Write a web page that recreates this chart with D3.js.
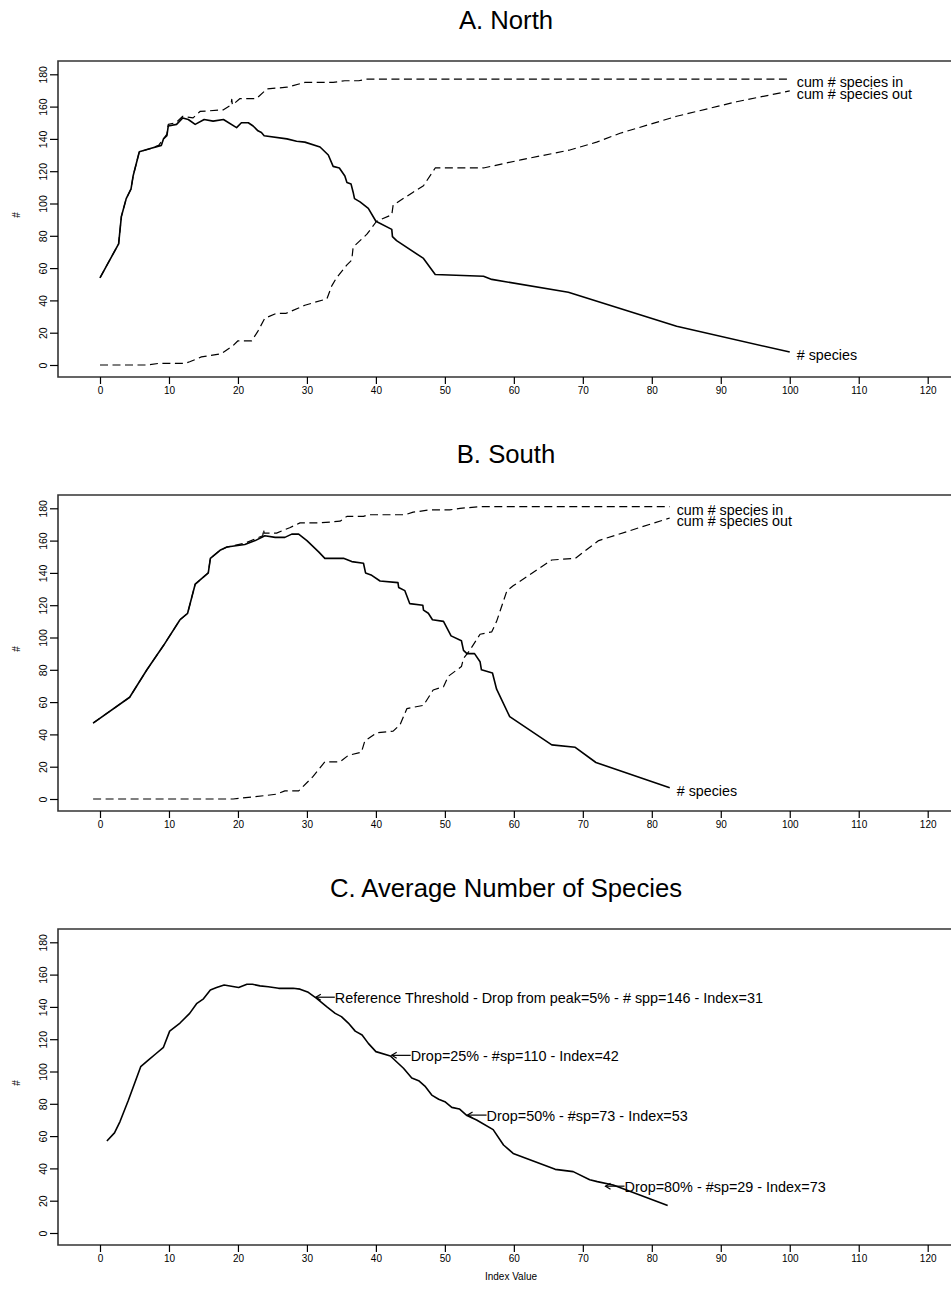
<!DOCTYPE html>
<html>
<head>
<meta charset="utf-8">
<script src="https://cdn.jsdelivr.net/npm/d3@7"></script>
<style>
  body { margin: 0; background: #fff; }
  svg { display: block; font-family: "Liberation Sans", Arial, Helvetica, sans-serif; }
</style>
</head>
<body>
<div id="chart"></div>
<script>
// index value / species count pairs
const northSpecies = [[0,54],[2.7,75],[3.1,92],[3.8,103],[4.5,109],[4.8,117],[5.7,132],[7.3,134],[8.9,136],[9.2,140],[9.7,142],[9.9,148],[11.1,149],[12,153],[12.8,152],[13.8,149],[15.1,152],[16.4,151],[17.9,152],[19.8,147],[20.5,150],[21.5,150],[22.2,148],[22.9,145],[23.4,144],[23.8,142],[27.1,140],[28.5,138.5],[29.7,138],[31.9,135],[33.1,130],[33.8,123],[34.7,122],[35.5,117],[35.8,113],[36.4,112],[36.7,107],[36.9,103],[37.7,101],[38.9,97],[40,89],[42.3,84],[42.4,79.5],[43,77],[46.9,66],[48.6,56],[55.6,55],[56.8,53],[67.9,45],[83.6,24],[100,8]];
const northCumIn = [[0,54],[2.7,75],[3.1,92],[3.8,103],[4.5,109],[4.8,117],[5.7,132],[7.3,134],[8.5,136],[9.2,140],[9.7,143],[9.9,149],[11,150],[12,154],[13.5,153],[14.5,157],[17.9,158],[19,161],[19.1,164.5],[19.2,161],[20.3,165],[22.7,165],[23.7,169],[24.2,171],[27.1,172],[29.7,175],[33.8,175],[35.5,176],[37.5,176],[38.7,177],[100,177]];
const northCumOut = [[0,0],[6.8,0],[8.5,1],[12.3,1],[13,2],[14.7,5],[17.6,7],[19.3,12],[20,15],[22,15],[22.9,21],[23.9,29],[25.6,32],[27,32],[29.7,37],[32.9,41],[33.6,49],[34.3,54],[35.8,62],[36.5,65],[36.7,73],[38.7,81],[40.1,89],[42.3,93],[42.5,99],[45.4,107],[46.9,111],[48.6,122],[55.6,122],[61,127],[68,133],[72,138],[75.4,143.5],[83.6,154],[92.3,163],[100,169.7]];

const southSpecies = [[-1,47],[4.3,63],[6.8,80],[9.2,95],[11.6,111],[12.7,115],[13.8,133],[15.7,140],[16,149],[17.4,154],[18.4,156],[21,157.6],[22.5,160],[23.9,163],[25.4,162],[26.8,162],[27.8,164],[28.8,164],[30,160],[31.7,153],[32.6,149],[35.3,149],[36.5,147],[38.2,146],[38.5,140],[39.4,138.5],[40.6,135],[43.2,134],[43.3,131],[44.2,129],[44.9,121],[46.8,120],[46.9,117],[47.6,115],[48.2,111],[49.8,110],[50.9,101],[52.4,98],[52.7,92],[53.2,90],[54.3,90],[55.1,85],[55.3,80],[56.9,78],[57.5,68],[59.4,51],[65.5,33.5],[68.9,32],[71.9,22.6],[82.6,7]];
const southCumIn = [[-1,47],[4.3,63],[6.8,80],[9.2,95],[11.6,111],[12.7,115],[13.8,133],[15.7,140],[16,149],[17.4,154],[18.4,156],[21,158.4],[23.6,163],[23.7,167],[23.8,164.6],[25.6,164.6],[27.5,168],[29,171],[31.9,171],[34.8,172],[35.8,175],[38.2,175],[38.9,176],[44.2,176],[45.4,177.6],[47.8,179],[50.7,179],[52.2,180],[55.1,181],[82.6,181]];
const southCumOut = [[-1,0],[19.3,0],[23.7,2],[25.6,3],[26.8,5],[28.8,5],[30.9,14],[32.6,23],[34.8,23],[36,27],[37.9,29],[38.4,36],[40.1,41],[42.5,42],[43.5,46],[44.5,56],[46.9,58],[48.3,67.5],[49.8,69.5],[50.5,76],[52.4,82],[52.7,87],[53.6,92],[55.1,102],[56.8,103.5],[57.5,110],[59,129],[59.9,132],[65.5,148],[68.9,149],[72.3,160],[82.6,174]];

const averageSpecies = [[1,57],[2.1,62],[2.9,69],[4.1,82],[5.9,103],[7,107],[8.1,111],[9.2,115],[10.1,125],[11.6,130],[13,136],[14,142],[15,145],[16,150.5],[16.9,152],[18,153.6],[20.1,152],[21.3,154],[22.1,154],[23.2,153],[24.4,152.5],[25.9,151.5],[28,151.5],[29,151],[30.2,149],[31.4,145.3],[32.9,140],[34.1,136],[35,134],[36,130],[37,125],[38,122.6],[38.9,117.4],[40,112.3],[42.1,109.6],[44,102],[45.2,96],[46.2,94.3],[47.1,91],[48.1,85.4],[49.1,82.8],[50,81.3],[51,77.8],[52.1,76.8],[53.2,72.7],[54.6,70],[57,64],[58.5,54.5],[59.9,49.3],[66,39.4],[68.6,38],[71,33],[72.1,31.8],[74.4,29.7],[82.3,17]];

const thresholdIndex = [31, 42, 53, 73];
const thresholdSpecies = [146, 110, 73, 29];
const thresholdLabels = [
  'Reference Threshold - Drop from peak=5% - # spp=146 - Index=31',
  'Drop=25% - #sp=110 - Index=42',
  'Drop=50% - #sp=73 - Index=53',
  'Drop=80% - #sp=29 - Index=73'
];

const xTicks = [0, 10, 20, 30, 40, 50, 60, 70, 80, 90, 100, 110, 120];
const yTicks = [0, 20, 40, 60, 80, 100, 120, 140, 160, 180];

const width = 951, height = 1294;
const panelStep = 434;

const panels = [
  { title: 'A. North', series: [
      { values: northSpecies, dashed: false, label: '# species' },
      { values: northCumIn, dashed: true, label: 'cum # species in' },
      { values: northCumOut, dashed: true, label: 'cum # species out' }] },
  { title: 'B. South', series: [
      { values: southSpecies, dashed: false, label: '# species' },
      { values: southCumIn, dashed: true, label: 'cum # species in' },
      { values: southCumOut, dashed: true, label: 'cum # species out' }] },
  { title: 'C. Average Number of Species', series: [
      { values: averageSpecies, dashed: false, label: null }], notes: true }
];

const svg = d3.select('#chart').append('svg')
    .attr('width', width)
    .attr('height', height);

const x = d3.scaleLinear().domain([0, 120]).range([100, 927.7]);

panels.forEach((p, i) => {
  const oy = i * panelStep;
  const y = d3.scaleLinear().domain([0, 180]).range([365 + oy, 74.3 + oy]);
  const g = svg.append('g');
  const boxLeft = 58, boxTop = 61 + oy, boxBottom = 377 + oy, boxRight = 953;

  g.append('text')
      .attr('x', 506)
      .attr('y', 28.5 + oy)
      .attr('text-anchor', 'middle')
      .style('font-size', '25.7px')
      .text(p.title);

  g.append('path')
      .attr('d', `M${boxRight},${boxTop}H${boxLeft}V${boxBottom}H${boxRight}`)
      .attr('fill', 'none')
      .attr('stroke', '#333')
      .attr('stroke-width', 1.6);

  // x axis ticks below the frame
  const xa = d3.axisBottom(x).tickValues(xTicks).tickSize(7).tickPadding(3).tickFormat(d3.format('d'));
  const xg = g.append('g').attr('transform', `translate(0,${boxBottom})`).call(xa);
  xg.select('.domain').remove();
  xg.selectAll('line').attr('stroke', '#000').attr('stroke-width', 1.2);
  xg.selectAll('text').style('font-size', '10px').style('font-family', 'Liberation Sans, Arial, sans-serif').attr('fill', '#000');

  const ya = d3.axisLeft(y).tickValues(yTicks).tickSize(8).tickPadding(0).tickFormat(d3.format('d'));
  const yg = g.append('g').attr('transform', `translate(${boxLeft},0)`).call(ya);
  yg.select('.domain').remove();
  yg.selectAll('line').attr('stroke', '#000').attr('stroke-width', 1.2);
  yg.selectAll('text')
      .attr('x', null).attr('dy', null)
      .attr('text-anchor', 'middle')
      .attr('transform', 'translate(-11,0) rotate(-90)')
      .attr('y', 0)
      .style('font-size', '10.5px')
      .style('font-family', 'Liberation Sans, Arial, sans-serif')
      .attr('fill', '#000');

  g.append('text')
      .attr('transform', `translate(20,${215 + oy}) rotate(-90)`)
      .attr('text-anchor', 'middle')
      .style('font-size', '10px')
      .text('#');

  const line = d3.line().x(d => x(d[0])).y(d => y(d[1]));

  p.series.forEach(s => {
    g.append('path')
        .datum(s.values)
        .attr('d', line)
        .attr('fill', 'none')
        .attr('stroke', '#000')
        .attr('stroke-width', s.dashed ? 1.2 : 1.6)
        .attr('stroke-dasharray', s.dashed ? '8,4.5' : null)
        .attr('stroke-linejoin', 'round');
    if (s.label) {
      const last = s.values[s.values.length - 1];
      g.append('text')
          .attr('x', x(last[0]) + 7)
          .attr('y', y(last[1]) + 3)
          .attr('dominant-baseline', 'central')
          .style('font-size', '14.3px')
          .text(s.label);
    }
  });

  if (p.notes) {
    thresholdIndex.forEach((idx, k) => {
      const tx = x(idx) + 2, ty = y(thresholdSpecies[k]);
      g.append('line')
          .attr('x1', tx + 19).attr('y1', ty)
          .attr('x2', tx).attr('y2', ty)
          .attr('stroke', '#000').attr('stroke-width', 1.2);
      g.append('path')
          .attr('d', `M${tx + 5},${ty - 3}L${tx},${ty}L${tx + 5},${ty + 3}`)
          .attr('fill', 'none').attr('stroke', '#000').attr('stroke-width', 1.2);
      g.append('text')
          .attr('x', tx + 19)
          .attr('y', ty + 1)
          .attr('dominant-baseline', 'central')
          .style('font-size', '14.4px')
          .text(thresholdLabels[k]);
    });

    g.append('text')
        .attr('x', 511)
        .attr('y', boxBottom + 35)
        .attr('text-anchor', 'middle')
        .style('font-size', '10px')
        .text('Index Value');
  }
});
</script>
</body>
</html>
